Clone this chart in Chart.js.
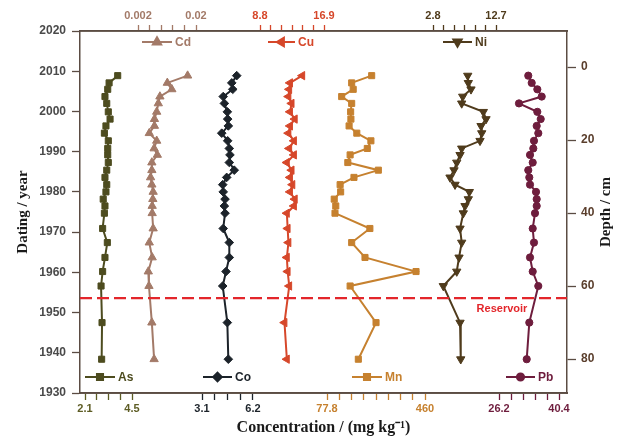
<!DOCTYPE html>
<html>
<head>
<meta charset="utf-8">
<script src="https://cdn.jsdelivr.net/npm/chart.js@4.4.0/dist/chart.umd.min.js"></script>
<style>
  html, body { margin: 0; padding: 0; background: #fff; }
  canvas { display: block; }
</style>
</head>
<body>
<canvas id="myChart" width="619" height="438"></canvas>
<script>
// sample ages (core slices 2-40 cm every 2 cm, 44-60 cm every 4 cm, then 70 and 80 cm)
const years = [2008.9, 2007.1, 2005.5, 2003.7, 2002.0, 1999.9, 1998.1, 1996.4, 1994.6, 1992.7,
  1990.8, 1989.2, 1987.3, 1985.4, 1983.6, 1981.8, 1980.0, 1978.2, 1976.5, 1974.7,
  1970.9, 1967.4, 1963.7, 1960.2, 1956.6, 1947.5, 1938.4];

// concentrations, mg/kg
const asConc = [3.77, 3.33, 3.26, 3.12, 3.21, 3.29, 3.38, 3.17, 3.09, 3.29, 3.26, 3.26, 3.29, 3.21,
  3.12, 3.21, 3.17, 3.03, 3.12, 3.09, 3.00, 3.24, 3.12, 3.00, 2.92, 2.97, 2.95];
const cdConc = [0.0174, 0.0111, 0.0125, 0.0088, 0.0083, 0.0078, 0.0071, 0.0071, 0.0055, 0.0078,
  0.0070, 0.0080, 0.0063, 0.0063, 0.0059, 0.0063, 0.0067, 0.0066, 0.0064, 0.0064, 0.0067,
  0.0055, 0.0064, 0.0052, 0.0054, 0.0063, 0.0070];
const coConc = [5.21, 4.91, 4.97, 4.39, 4.46, 4.64, 4.66, 4.70, 4.30, 4.66, 4.76, 4.80, 4.76, 5.06,
  4.60, 4.36, 4.39, 4.50, 4.46, 4.50, 4.39, 4.76, 4.76, 4.56, 4.36, 4.64, 4.70];
const cuConc = [14.15, 12.6, 12.5, 12.4, 12.8, 12.6, 13.2, 12.6, 12.4, 13.1, 12.5, 13.1, 12.2, 12.8,
  12.6, 12.9, 12.6, 13.2, 13.1, 12.2, 12.3, 12.4, 12.2, 12.3, 12.5, 11.9, 12.2];
const mnConc = [252, 174, 180, 135, 174, 170, 171, 164, 194, 249, 235, 168, 159, 278, 183, 129,
  131, 106, 112, 109, 245, 174, 226, 425, 168, 269, 200];
const niConc = [8.26, 8.35, 8.77, 7.47, 7.31, 10.71, 11.13, 10.35, 10.46, 10.19, 7.31, 7.05, 6.53,
  6.10, 5.47, 6.26, 8.51, 8.35, 7.83, 7.56, 7.05, 7.31, 6.89, 6.53, 4.42, 7.05, 7.16];
const pbConc = [33.13, 33.94, 35.27, 36.31, 30.93, 35.27, 36.07, 35.12, 35.50, 34.48, 34.32, 33.54,
  34.18, 33.13, 33.37, 33.54, 34.96, 35.12, 35.12, 34.72, 34.18, 34.48, 33.54, 34.18, 35.50,
  33.37, 32.76];

// labelled end ticks of every element axis
const asTicks = [2.1, 4.5];
const coTicks = [3.1, 6.2];
const mnTicks = [77.8, 460];
const pbTicks = [26.2, 40.4];
const cdTicks = [0.002, 0.02];
const cuTicks = [8.8, 16.9];
const niTicks = [2.8, 12.7];
const depthTicks = [0, 20, 40, 60, 80];
const reservoirYear = 1953.6;

const W = 619, H = 438;
const AREA = { left: 80, right: 567, top: 31, bottom: 393 };
const AXIS = '#5b4c43';
const SANS = "'Liberation Sans', Arial, sans-serif";
const SERIF = "'Liberation Serif', 'Times New Roman', serif";

// value range that puts v0 at pixel p0 and v1 at pixel p1
function linRange(v0, p0, v1, p1, lo, hi) {
  const k = (v1 - v0) / (p1 - p0);
  return { min: v0 - (p0 - lo) * k, max: v0 + (hi - p0) * k };
}

function trackAxis(position, ends, px, intervals, color, primary) {
  const r = linRange(ends[0], px[0], ends[1], px[1], AREA.left, AREA.right);
  const top = position === 'top';
  return {
    type: 'linear',
    position: position,
    min: r.min,
    max: r.max,
    weight: primary ? 10 : 0,
    // only one axis per side takes up room, the others sit on the same line
    afterFit: (s) => { s.height = primary ? (top ? AREA.top : H - AREA.bottom) : 0; },
    afterBuildTicks: (s) => {
      const t = [];
      for (let i = 0; i <= intervals; i++) {
        t.push({ value: ends[0] + (ends[1] - ends[0]) * i / intervals });
      }
      s.ticks = t;
    },
    grid: { drawOnChartArea: false, tickLength: top ? 6 : 7, tickColor: color, tickWidth: 1.3 },
    border: { color: AXIS, width: 1.5 },
    ticks: {
      autoSkip: false, maxRotation: 0, padding: 2, color: color,
      font: { family: SANS, size: 11, weight: 'bold' },
      callback: (v, i) => (i === 0 ? String(ends[0]) : i === intervals ? String(ends[1]) : '')
    },
    title: {
      display: primary && !top,
      text: 'Concentration / (mg kg\u207B\u00B9)',
      color: '#1a1a1a',
      font: { family: SERIF, size: 16, weight: 'bold' },
      padding: { top: 0, bottom: 1 }
    }
  };
}

const series = [
  { label: 'As', values: asConc, axis: 'xAs', color: '#4d4c1f', style: 'rect', rot: 0, r: 4.3, leg: [85, 115, 377] },
  { label: 'Cd', values: cdConc, axis: 'xCd', color: '#a37a68', style: 'triangle', rot: 0, r: 4.8, leg: [142, 172, 42] },
  { label: 'Co', values: coConc, axis: 'xCo', color: '#1c232a', style: 'rectRot', rot: 0, r: 4.3, leg: [203, 232, 377] },
  { label: 'Cu', values: cuConc, axis: 'xCu', color: '#d6472a', style: 'triangle', rot: -90, r: 4.8, leg: [268, 295, 42] },
  { label: 'Mn', values: mnConc, axis: 'xMn', color: '#c6812f', style: 'rect', rot: 0, r: 4.3, leg: [352, 382, 377] },
  { label: 'Ni', values: niConc, axis: 'xNi', color: '#4f3b1c', style: 'triangle', rot: 180, r: 4.8, leg: [443, 472, 42] },
  { label: 'Pb', values: pbConc, axis: 'xPb', color: '#6e1d3d', style: 'circle', rot: 0, r: 3.6, leg: [506, 535, 377] }
];

// give the zero-height axes their full box back so their labels are not clipped
const stretchAxes = {
  id: 'stretchAxes',
  afterLayout(chart) {
    Object.values(chart.scales).forEach((s) => {
      if (s.options.position === 'bottom') {
        s.bottom = H;
        s.height = s.bottom - s.top;
      } else if (s.options.position === 'top') {
        s.top = 0;
        s.height = s.bottom;
      }
    });
  }
};

const decor = {
  id: 'decor',
  afterDatasetsDraw(chart) {
    const ctx = chart.ctx;
    const area = chart.chartArea;
    const yr = chart.scales.y.getPixelForValue(reservoirYear);
    ctx.save();
    // reservoir line
    ctx.strokeStyle = '#e3262b';
    ctx.lineWidth = 2.2;
    ctx.setLineDash([12, 5]);
    ctx.beginPath();
    ctx.moveTo(area.left, yr);
    ctx.lineTo(area.right, yr);
    ctx.stroke();
    ctx.setLineDash([]);
    ctx.fillStyle = '#e3262b';
    ctx.font = 'bold 11px ' + SANS;
    ctx.textAlign = 'center';
    ctx.textBaseline = 'middle';
    ctx.fillText('Reservoir', 502, yr + 11);

    // legends inside the frame
    series.forEach((s) => {
      const [x0, x1, y] = s.leg;
      ctx.strokeStyle = s.color;
      ctx.fillStyle = s.color;
      ctx.lineWidth = 2;
      ctx.beginPath();
      ctx.moveTo(x0, y);
      ctx.lineTo(x1, y);
      ctx.stroke();
      Chart.helpers.drawPoint(ctx, { pointStyle: s.style, rotation: s.rot, radius: s.r, borderWidth: 1 }, (x0 + x1) / 2, y);
      ctx.fillStyle = s.color;
      ctx.font = 'bold 12px ' + SANS;
      ctx.textAlign = 'left';
      ctx.textBaseline = 'middle';
      ctx.fillText(s.label, x1 + 3, y + 1);
    });

    // right axis title, read bottom to top
    ctx.translate(606, (area.top + area.bottom) / 2);
    ctx.rotate(-Math.PI / 2);
    ctx.fillStyle = '#1a1a1a';
    ctx.font = 'bold 15px ' + SERIF;
    ctx.textAlign = 'center';
    ctx.fillText('Depth / cm', 0, 0);
    ctx.restore();
  }
};

const depthRange = linRange(0, 67, 80, 359, AREA.top, AREA.bottom);

new Chart(document.getElementById('myChart'), {
  type: 'scatter',
  data: {
    datasets: series.map((s) => ({
      label: s.label,
      data: years.map((y, i) => ({ x: s.values[i], y: y })),
      xAxisID: s.axis,
      yAxisID: 'y',
      showLine: true,
      borderColor: s.color,
      backgroundColor: s.color,
      borderWidth: 2,
      pointStyle: s.style,
      pointRotation: s.rot,
      pointRadius: s.r,
      pointBorderWidth: 1,
      pointBackgroundColor: s.color,
      pointBorderColor: s.color,
      tension: 0
    }))
  },
  options: {
    responsive: false,
    animation: false,
    devicePixelRatio: 1,
    layout: { padding: 0 },
    plugins: { legend: { display: false }, tooltip: { enabled: false } },
    scales: {
      y: {
        type: 'linear',
        position: 'left',
        min: 1930,
        max: 2020,
        afterFit: (s) => { s.width = AREA.left; },
        grid: { drawOnChartArea: false, tickLength: 8, tickColor: AXIS, tickWidth: 1.3 },
        border: { color: AXIS, width: 1.5 },
        ticks: {
          stepSize: 10, padding: 6, color: '#4a4a4a',
          font: { family: SANS, size: 12, weight: 'bold' },
          callback: (v) => String(v)
        },
        title: {
          display: true, text: 'Dating / year', color: '#1a1a1a',
          font: { family: SERIF, size: 15, weight: 'bold' },
          padding: { top: 14, bottom: 0 }
        }
      },
      depth: {
        type: 'linear',
        position: 'right',
        reverse: true,
        min: depthRange.min,
        max: depthRange.max,
        afterFit: (s) => { s.width = W - AREA.right; },
        afterBuildTicks: (s) => { s.ticks = depthTicks.map((v) => ({ value: v })); },
        grid: { drawOnChartArea: false, tickLength: 9, tickColor: AXIS, tickWidth: 1.3 },
        border: { color: AXIS, width: 1.5 },
        ticks: {
          padding: 5, color: '#5a3e2c',
          font: { family: SANS, size: 12, weight: 'bold' },
          callback: (v) => String(v)
        }
      },
      xAs: trackAxis('bottom', asTicks, [85, 132], 4, '#5d5c24', true),
      xCo: trackAxis('bottom', coTicks, [202, 253], 4, '#1c232a', false),
      xMn: trackAxis('bottom', mnTicks, [327, 425], 8, '#c6812f', false),
      xPb: trackAxis('bottom', pbTicks, [499, 559], 5, '#6e1d3d', false),
      xCd: trackAxis('top', cdTicks, [138, 196], 5, '#a37a68', true),
      xCu: trackAxis('top', cuTicks, [260, 324], 6, '#d6472a', false),
      xNi: trackAxis('top', niTicks, [433, 496], 6, '#4f3b1c', false)
    }
  },
  plugins: [stretchAxes, decor]
});
</script>
</body>
</html>
